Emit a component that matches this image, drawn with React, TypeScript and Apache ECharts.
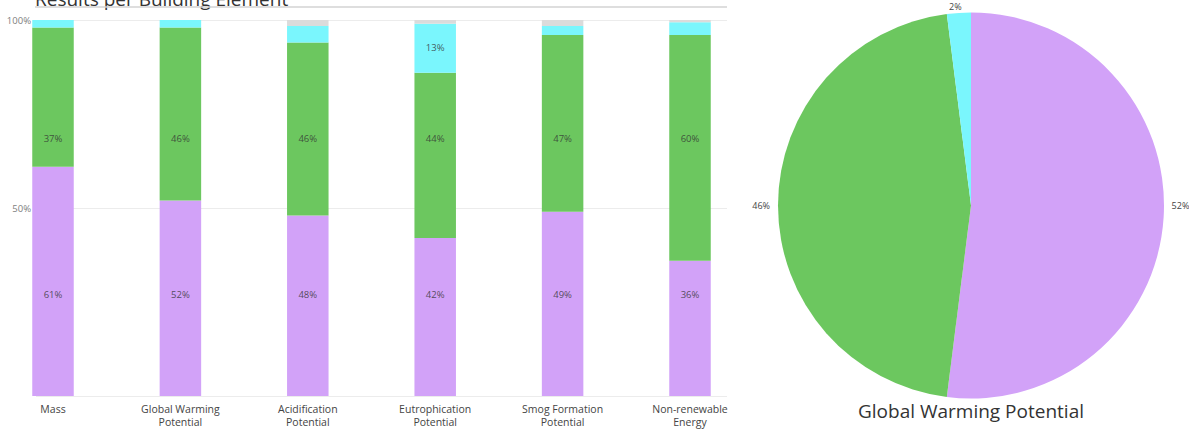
import React, { useEffect, useRef } from "react";
import * as echarts from "echarts";

// Building elements compared in the stacked bars
const categories = [
  "Mass",
  "Global Warming\nPotential",
  "Acidification\nPotential",
  "Eutrophication\nPotential",
  "Smog Formation\nPotential",
  "Non-renewable\nEnergy",
];

// Percentage share of each element group, per impact category
const purpleShare = [61, 52, 48, 42, 49, 36];
const greenShare = [37, 46, 46, 44, 47, 60];
const cyanShare = [2, 2, 4.4, 13, 2.4, 3.4];
const grayShare = [0, 0, 1.6, 1, 1.6, 0.6];

// Height (in %) of the text row that carries each group's percentages
const labelRows = [26.9, 68.5, 92.8, 99];

// Breakdown of the Global Warming Potential
const pieNames = ["Group A", "Group B", "Group C"];
const pieShare = [52, 46, 2];

const yTicks = [50, 100];

const COLORS = ["#d2a2f8", "#6cc75f", "#7af6fd", "#dbdbdb"];
const FONT = "'Open Sans', 'Noto Sans', sans-serif";

export default function App() {
  const ref = useRef<HTMLDivElement>(null);

  useEffect(() => {
    if (!ref.current) return;
    const chart = echarts.init(ref.current, undefined, { renderer: "svg" });

    const stacks = [purpleShare, greenShare, cyanShare, grayShare];
    const barSeries = stacks.map((arr, s) => ({
      type: "bar",
      name: "Group " + (s + 1),
      stack: "total",
      xAxisIndex: 0,
      yAxisIndex: 0,
      barWidth: 41.5,
      clip: false,
      itemStyle: { color: COLORS[s] },
      data: arr,
    }));

    // percentage texts, one row per group, shown for the larger shares
    const textSeries = stacks.map((arr, s) => ({
      type: "scatter",
      name: "Group " + (s + 1) + " share",
      xAxisIndex: 0,
      yAxisIndex: 0,
      symbolSize: 0,
      silent: true,
      z: 5,
      label: {
        position: "inside",
        fontSize: 9.5,
        fontFamily: FONT,
        color: "#333",
        formatter: (p: any) => `${Math.round(arr[p.dataIndex])}%`,
      },
      data: arr.map((v, i) => ({
        value: [i, labelRows[s]],
        label: { show: v >= 5 },
      })),
    }));

    chart.setOption({
      animation: false,
      textStyle: { fontFamily: FONT },
      graphic: [
        {
          type: "text",
          x: 35,
          y: -1,
          style: {
            text: "Results per Building Element",
            font: `19px ${FONT}`,
            fill: "#333",
            textVerticalAlign: "middle",
          },
        },
        {
          type: "line",
          shape: { x1: 35, y1: 7, x2: 727, y2: 7 },
          style: { stroke: "#d3d3d3", lineWidth: 1.5 },
        },
        {
          type: "text",
          x: 971,
          y: 411,
          style: {
            text: "Global Warming Potential",
            font: `19px ${FONT}`,
            fill: "#333",
            textAlign: "center",
            textVerticalAlign: "middle",
          },
        },
      ],
      grid: [
        // bars: element centres spread from the first to the last slot
        { left: 53, right: 499, top: 20, bottom: 35 },
        // percentage scale and gridlines
        { left: 36, right: 462, top: 20, bottom: 35 },
      ],
      xAxis: [
        {
          type: "category",
          gridIndex: 0,
          boundaryGap: false,
          data: categories,
          axisLine: { show: false },
          axisTick: { show: false },
          splitLine: { show: false },
          axisLabel: {
            interval: 0,
            fontSize: 10.5,
            lineHeight: 13,
            color: "#444",
            margin: 6,
            fontFamily: FONT,
          },
        },
        { type: "value", gridIndex: 1, min: 0, max: 1, show: false },
      ],
      yAxis: [
        { type: "value", gridIndex: 0, min: 0, max: 100, show: false },
        {
          type: "value",
          gridIndex: 1,
          min: 0,
          max: 100,
          interval: 50,
          axisLine: { show: false },
          axisTick: { show: false },
          splitLine: { lineStyle: { color: "#ececec" } },
          axisLabel: {
            formatter: (v: number) => (yTicks.includes(v) ? `${v}%` : ""),
            fontSize: 9.5,
            color: "#808080",
            margin: 5,
            padding: [0, 0, 8, 0],
            fontFamily: FONT,
          },
        },
      ],
      series: [
        ...barSeries,
        ...textSeries,
        {
          type: "pie",
          name: "Global Warming Potential",
          center: [971, 205.5],
          radius: 193,
          startAngle: 90,
          clockwise: true,
          avoidLabelOverlap: false,
          label: {
            show: true,
            position: "outside",
            fontSize: 9,
            color: "#444",
            fontFamily: FONT,
            formatter: (p: any) => `${Math.round(p.value)}%`,
          },
          labelLine: { show: false, length: 3, length2: 0 },
          data: pieShare.map((v, i) => ({
            name: pieNames[i],
            value: v,
            itemStyle: { color: COLORS[i] },
            label: i === 0 ? { offset: [0, -12] } : i === 2 ? { offset: [8, -3] } : {},
          })),
        },
      ],
    });

    return () => chart.dispose();
  }, []);

  return (
    <div
      ref={ref}
      style={{ position: "absolute", left: 0, top: 0, width: 1189, height: 431 }}
    />
  );
}
